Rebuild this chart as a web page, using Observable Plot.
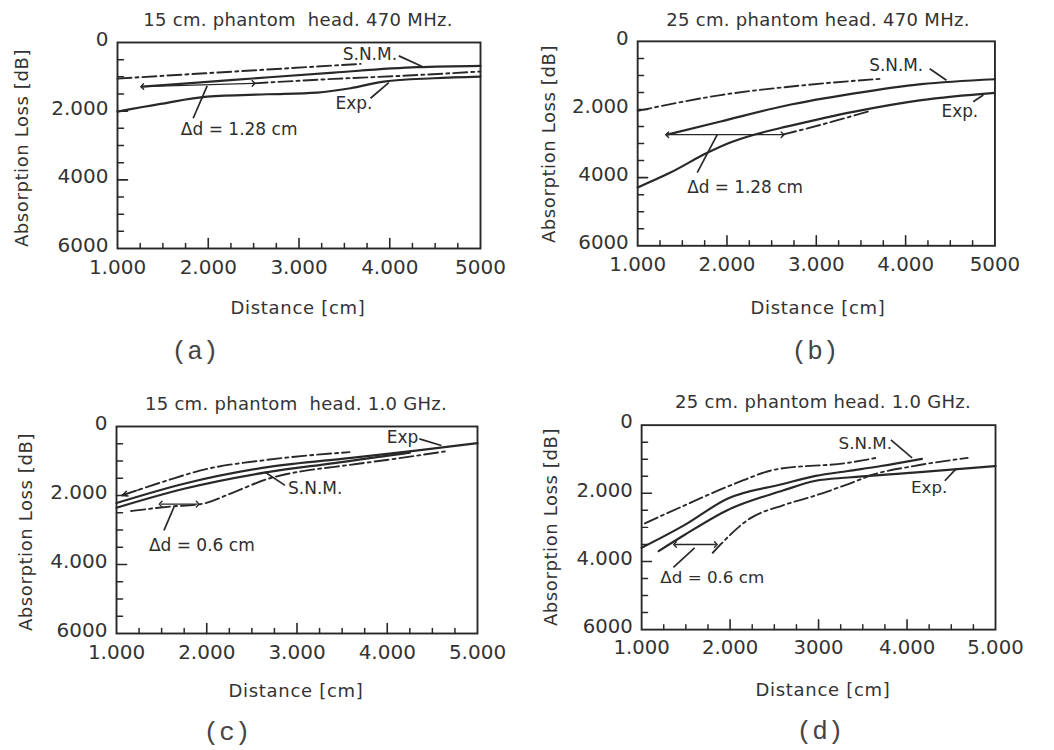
<!DOCTYPE html>
<html>
<head>
<meta charset="utf-8">
<script src="https://cdn.jsdelivr.net/npm/d3@7"></script>
<script src="https://cdn.jsdelivr.net/npm/@observablehq/plot@0.6"></script>
<style>
  body { margin: 0; background: #fff; }
  #root { position: relative; width: 1054px; height: 750px; overflow: hidden; font-family: "DejaVu Sans", sans-serif; color: #333; background: #fff; }
  .t { position: absolute; white-space: pre; transform: translate(-50%, -50%); line-height: 1; }
  .title { font-size: 18px; letter-spacing: 0.3px; }
  .xl { font-size: 18px; letter-spacing: 0.7px; }
  .yl { font-size: 18px; letter-spacing: 0.6px; transform: translate(-50%, -50%) rotate(-90deg); }
  .pl { font-family: "Liberation Mono", "DejaVu Sans Mono", monospace; font-size: 26px; color: #444; }
  .panel { position: absolute; }
</style>
</head>
<body>
<div id="root"></div>
<script>
// ---------- data ----------
const xTicks = [1000, 2000, 3000, 4000, 5000];
const yTicks = [0, 2000, 4000, 6000];
const xMinorTicks = [1250, 1500, 1750, 2250, 2500, 2750, 3250, 3500, 3750, 4250, 4500, 4750];
const xMajorInner = [2000, 3000, 4000];
const yMinorTicks = [500, 1000, 1500, 2500, 3000, 3500, 4500, 5000, 5500];
const yMajorInner = [2000, 4000];

const titles = ["15 cm. phantom  head. 470 MHz.", "25 cm. phantom head. 470 MHz.", "15 cm. phantom  head. 1.0 GHz.", "25 cm. phantom head. 1.0 GHz."];
const panelLetters = ["(a)", "(b)", "(c)", "(d)"];
const xAxisLabel = "Distance [cm]";
const yAxisLabel = "Absorption Loss [dB]";

const xTickLabelsA = ["1.000", "2.000", "3.000", "4.000", "5000"];
const yTickLabelsA = ["0", "2.000", "4000", "6000"];
const xTickLabelsB = ["1.000", "2.000", "3.000", "4.000", "5000"];
const yTickLabelsB = ["0", "2.000", "4000", "6000"];
const xTickLabelsC = ["1.000", "2.000", "3.000", "4.000", "5.000"];
const yTickLabelsC = ["0", "2.000", "4.000", "6000"];
const xTickLabelsD = ["1.000", "2.000", "3000", "4.000", "5.000"];
const yTickLabelsD = ["0", "2.000", "4.000", "6000"];

// (a) 15 cm, 470 MHz  [distance, loss]
const aExp = [[1000,2013],[1474,1790],[1988,1576],[2649,1508],[3200,1459],[3568,1333],[3935,1138],[4486,1041],[5000,992]];
const aSnm = [[1272,1284],[2282,1089],[3384,875],[4302,720],[5000,681]];
const aDashUpper = [[1000,1051],[2282,846],[3678,623]];
const aDashLower = [[2499,1190],[3384,1060],[4119,972],[5000,846]];
const aShift = [{x1: 1272, y1: 1284, x2: 2499, y2: 1190}];
const aNotes = [
  {text: "S.N.M.", x: 3781, y: 360, lx1: 4100, ly1: 389, lx2: 4357, ly2: 700, anchor: "middle"},
  {text: "Exp.", x: 3605, y: 1770, lx1: 3788, ly1: 1624, lx2: 3990, ly2: 1167, anchor: "middle"},
  {text: "Δd = 1.28 cm", x: 1698, y: 2548, lx1: 1834, ly1: 2207, lx2: 1988, ly2: 1264, anchor: "start"}
];

// (b) 25 cm, 470 MHz
const bExp = [[1000,4287],[1367,3852],[1779,3271],[2022,2981],[2303,2739],[2678,2497],[3427,2061],[4176,1723],[5000,1510]];
const bSnm = [[1330,2739],[1929,2352],[2640,1897],[3427,1529],[4176,1258],[5000,1113]];
const bDashUpper = [[1000,2042],[1929,1577],[2865,1287],[3745,1094]];
const bDashLower = [[2622,2739],[3052,2448],[3577,2061]];
const bShift = [{x1: 1330, y1: 2739, x2: 2622, y2: 2739}];
const bNotes = [
  {text: "S.N.M.", x: 3895, y: 706, lx1: 4270, ly1: 803, lx2: 4457, ly2: 1142, anchor: "middle"},
  {text: "Exp.", x: 4607, y: 2061, lx1: 4757, ly1: 1771, lx2: 4870, ly2: 1577, anchor: "middle"},
  {text: "Δd = 1.28 cm", x: 1554, y: 4287, lx1: 1667, ly1: 3852, lx2: 1891, ly2: 2739, anchor: "start"}
];

// (c) 15 cm, 1.0 GHz
const cExp = [[1000,2219],[1748,1659],[2674,1177],[3600,907],[4341,694],[5000,482]];
const cSnm = [[1000,2354],[1748,1804],[2674,1321],[3415,1061],[4156,791],[4250,760]];
const cDashUpper = [[1063,1996],[1563,1563],[1933,1273],[2674,965],[3581,743]];
const cDashLower = [[1163,2450],[1600,2320],[1933,2250],[2304,1900],[2674,1520],[3044,1300],[3415,1170],[4156,910],[4637,723]];
const cShift = [{x1: 1489, y1: 2250, x2: 1900, y2: 2250}];
const cNotes = [
  {text: "Exp", x: 4170, y: 309, lx1: 4356, ly1: 357, lx2: 4600, ly2: 550, anchor: "middle"},
  {text: "S.N.M.", x: 2900, y: 1804, lx1: 2867, ly1: 1707, lx2: 2644, ly2: 1321, anchor: "start"},
  {text: "Δd = 0.6 cm", x: 1359, y: 3444, lx1: 1526, ly1: 3010, lx2: 1637, ly2: 2334, anchor: "start"}
];
// arrowhead at the left end of the upper dash-dot curve in (c)
const cHeads = [{x1: 1250, y1: 1830, x2: 1063, y2: 1996}];

// (d) 25 cm, 1.0 GHz
const dExp = [[1192,3696],[1488,3216],[1969,2496],[2597,1920],[2967,1632],[3336,1536],[4075,1392],[5000,1200]];
const dSnm = [[1000,3600],[1488,2928],[1969,2160],[2597,1728],[2967,1488],[3336,1344],[3706,1200],[4168,989]];
const dDashUpper = [[1037,2880],[1488,2352],[2043,1728],[2523,1296],[3336,1104],[3650,960]];
const dDashLower = [[1804,3744],[2227,2736],[2597,2352],[2967,2064],[3336,1728],[3632,1440],[4075,1200],[4686,960]];
const dShift = [{x1: 1377, y1: 3504, x2: 1839, y2: 3504}];
const dNotes = [
  {text: "S.N.M.", x: 3528, y: 528, lx1: 3817, ly1: 432, lx2: 4057, ly2: 960, anchor: "middle"},
  {text: "Exp.", x: 4250, y: 1824, lx1: 4427, ly1: 1632, lx2: 4557, ly2: 1277, anchor: "middle"},
  {text: "Δd = 0.6 cm", x: 1211, y: 4464, lx1: 1359, ly1: 4176, lx2: 1599, ly2: 3600, anchor: "start"}
];

// ---------- layout ----------
const panels = [
  {frame: [117, 480, 42, 248], xl: xTickLabelsA, yl: yTickLabelsA, exp: aExp, snm: aSnm, du: aDashUpper, dl: aDashLower, shift: aShift, notes: aNotes, heads: [],
   title: [298, 20], xlab: [298, 308], ylab: [22, 148], letter: [195, 352]},
  {frame: [638, 998, 41, 247], xl: xTickLabelsB, yl: yTickLabelsB, exp: bExp, snm: bSnm, du: bDashUpper, dl: bDashLower, shift: bShift, notes: bNotes, heads: [],
   title: [818, 20], xlab: [818, 308], ylab: [549, 144], letter: [815, 352]},
  {frame: [116, 477, 426, 633], xl: xTickLabelsC, yl: yTickLabelsC, exp: cExp, snm: cSnm, du: cDashUpper, dl: cDashLower, shift: cShift, notes: cNotes, heads: cHeads,
   title: [296, 404], xlab: [296, 691], ylab: [26, 532], letter: [227, 733]},
  {frame: [643, 1003, 425, 633], xl: xTickLabelsD, yl: yTickLabelsD, exp: dExp, snm: dSnm, du: dDashUpper, dl: dDashLower, shift: dShift, notes: dNotes, heads: [],
   title: [823, 402], xlab: [823, 690], ylab: [551, 527], letter: [820, 732]}
];

const ink = "#282828";
const tickShape = {draw(context, l) { context.moveTo(0, 0); context.lineTo(0, -l); }};
const headShape = {draw(context, l) {
  context.moveTo(-3.5, -7); context.lineTo(0, 0); context.lineTo(3.5, -7);
}};
const dash = "14,4,3,4";
const root = document.getElementById("root");

function addText(cls, text, pos) {
  const el = document.createElement("div");
  el.className = "t " + cls;
  el.textContent = text;
  el.style.left = pos[0] + "px";
  el.style.top = pos[1] + "px";
  root.appendChild(el);
}

panels.forEach((p, i) => {
  const [L, R, T, B] = p.frame;
  const mL = 110, mR = 60, mT = 20, mB = 45;
  const W = (R - L) + mL + mR, H = (B - T) + mT + mB;
  const notesMid = p.notes.filter(d => d.anchor === "middle");
  const notesStart = p.notes.filter(d => d.anchor === "start");
  const chart = Plot.plot({
    width: W, height: H,
    marginLeft: mL, marginRight: mR, marginTop: mT, marginBottom: mB,
    x: {domain: [1000, 5000]},
    y: {domain: [0, 6000], reverse: true},
    style: {fontFamily: "DejaVu Sans, sans-serif", color: "#333", background: "transparent", overflow: "visible"},
    marks: [
      Plot.axisX(xTicks, {tickSize: 0, tickPadding: 11, fontSize: 20, tickFormat: d => p.xl[xTicks.indexOf(d)], label: null, fill: "#333"}),
      Plot.axisY(yTicks, {tickSize: 0, tickPadding: 9, fontSize: 20, dy: -3, tickFormat: d => p.yl[yTicks.indexOf(d)], label: null, fill: "#333"}),
      Plot.vector(xMinorTicks, {x: d => d, y: 6000, length: 5, rotate: 0, anchor: "start", shape: tickShape, stroke: ink, strokeWidth: 1.5}),
      Plot.vector(xMajorInner, {x: d => d, y: 6000, length: 10, rotate: 0, anchor: "start", shape: tickShape, stroke: ink, strokeWidth: 1.6}),
      Plot.vector(yMinorTicks, {x: 1000, y: d => d, length: 6, rotate: 90, anchor: "start", shape: tickShape, stroke: ink, strokeWidth: 1.5}),
      Plot.vector(yMajorInner, {x: 1000, y: d => d, length: 10, rotate: 90, anchor: "start", shape: tickShape, stroke: ink, strokeWidth: 1.6}),
      Plot.frame({stroke: ink, strokeWidth: 1.9}),
      Plot.line(p.du, {stroke: ink, strokeWidth: 1.9, strokeDasharray: dash, curve: "monotone-x"}),
      Plot.line(p.dl, {stroke: ink, strokeWidth: 1.9, strokeDasharray: dash, curve: "monotone-x"}),
      Plot.line(p.snm, {stroke: ink, strokeWidth: 2.2, curve: "monotone-x"}),
      Plot.line(p.exp, {stroke: ink, strokeWidth: 2.2, curve: "monotone-x"}),
      Plot.arrow(p.heads, {x1: "x1", y1: "y1", x2: "x2", y2: "y2", stroke: ink, strokeWidth: 1.5, headLength: 8, strokeOpacity: 1, insetEnd: 0, bend: false, headAngle: 50, strokeDasharray: null, strokeLinecap: "round"}),
      Plot.link(p.shift, {x1: "x1", y1: "y1", x2: "x2", y2: "y2", stroke: ink, strokeWidth: 1.4, markerStart: "arrow-reverse", markerEnd: "arrow"}),
      Plot.link(p.notes, {x1: "lx1", y1: "ly1", x2: "lx2", y2: "ly2", stroke: ink, strokeWidth: 1.7}),
      Plot.text(notesMid, {x: "x", y: "y", text: "text", textAnchor: "middle", fontSize: 17, fill: "#2e2e2e"}),
      Plot.text(notesStart, {x: "x", y: "y", text: "text", textAnchor: "start", fontSize: 17, fill: "#2e2e2e"})
    ]
  });
  const div = document.createElement("div");
  div.className = "panel";
  div.style.left = (L - mL) + "px";
  div.style.top = (T - mT) + "px";
  div.appendChild(chart);
  root.appendChild(div);

  addText("title", titles[i], p.title);
  addText("xl", xAxisLabel, p.xlab);
  addText("yl", yAxisLabel, p.ylab);
  addText("pl", panelLetters[i], p.letter);
});
</script>
</body>
</html>
